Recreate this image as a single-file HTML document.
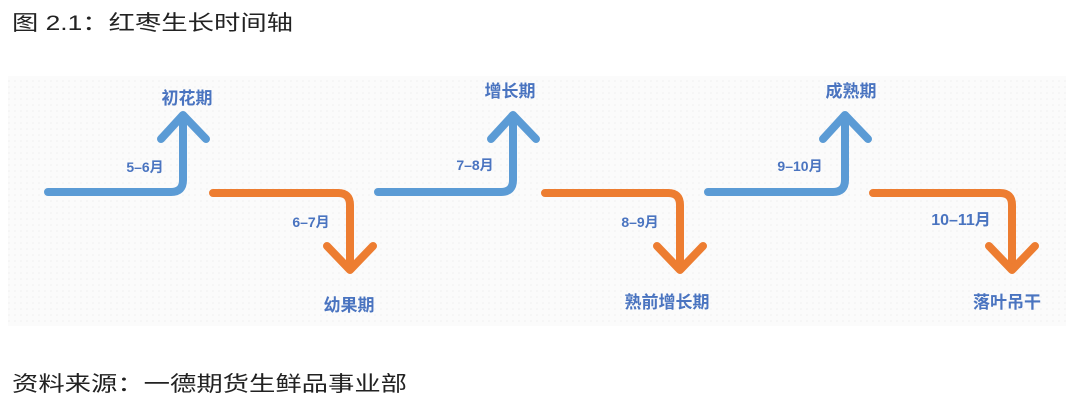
<!DOCTYPE html>
<html><head><meta charset="utf-8"><style>
html,body{margin:0;padding:0;background:#fff;}
</style></head><body>
<svg width="1080" height="408" xmlns="http://www.w3.org/2000/svg" style="display:block">
<defs><pattern id="d" width="6" height="6" patternUnits="userSpaceOnUse"><rect width="6" height="6" fill="#fbfbfb"/><circle cx="3" cy="3" r="0.8" fill="#f0f0f0"/></pattern></defs>
<rect x="8" y="76" width="1058" height="250" fill="url(#d)"/>
<g font-family="Liberation Sans, Noto Sans CJK SC, sans-serif" fill="#222">
<text x="12" y="30" font-size="21" textLength="281" lengthAdjust="spacingAndGlyphs">图 2.1：红枣生长时间轴</text>
<text x="12" y="391" font-size="21" textLength="395" lengthAdjust="spacingAndGlyphs">资料来源：一德期货生鲜品事业部</text>
</g>
<g fill="none" stroke-width="8" stroke-linecap="round" stroke-linejoin="round">
<g stroke="#5b9bd5">
<path d="M48 192 H171 Q183 192 183 180 V116"/><path d="M161 139 L183 115 L206 139"/>
<path d="M378 192 H501 Q513 192 513 180 V116"/><path d="M491 139 L513 115 L536 139"/>
<path d="M708 192 H833 Q845 192 845 180 V116"/><path d="M823 139 L845 115 L868 139"/>
</g>
<g stroke="#ed7d31">
<path d="M213 193 H338 Q350 193 350 205 V268"/><path d="M327 246 L350 270 L373 246"/>
<path d="M545 193 H668 Q680 193 680 205 V268"/><path d="M657 246 L680 270 L703 246"/>
<path d="M873 193 H1000 Q1012 193 1012 205 V268"/><path d="M989 246 L1012 270 L1035 246"/>
</g>
</g>
<g font-family="Liberation Sans, Noto Sans CJK SC, sans-serif" fill="#4a74c0">
<g font-size="17" text-anchor="middle" font-weight="600">
<text x="187" y="104">初花期</text>
<text x="349" y="311">幼果期</text>
<text x="510" y="97">增长期</text>
<text x="667" y="308">熟前增长期</text>
<text x="851" y="97">成熟期</text>
<text x="1007" y="308">落叶吊干</text>
</g>
<g font-size="14" text-anchor="middle" font-weight="bold">
<text x="145" y="172">5–6月</text>
<text x="311" y="227">6–7月</text>
<text x="475" y="170">7–8月</text>
<text x="640" y="227">8–9月</text>
<text x="800" y="171">9–10月</text>
<text x="961" y="225" font-size="16">10–11月</text>
</g>
</g>
</svg>
</body></html>
